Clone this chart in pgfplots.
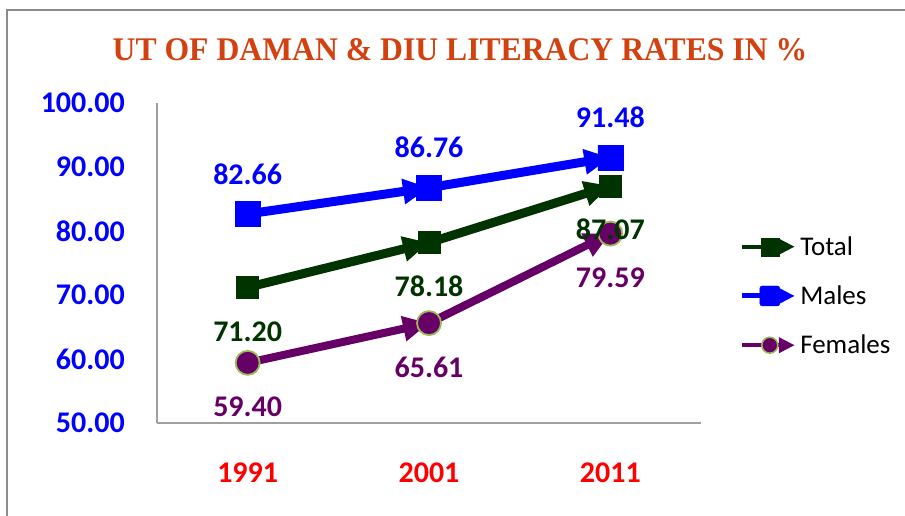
\documentclass[border=0pt]{standalone}
\usepackage{graphicx}
\usepackage{pgfplots}
\pgfplotsset{compat=1.18}
\usepackage{pgfplotstable}
\usepackage{fontspec}
\setmainfont{Carlito}
\newfontfamily\titlefont{Liberation Serif}
\usetikzlibrary{arrows.meta}
\definecolor{cTotal}{HTML}{003300}
\definecolor{cMales}{HTML}{0000FF}
\definecolor{cFem}{HTML}{660066}
\definecolor{cFemEdge}{HTML}{9BBB59}
\definecolor{cTitle}{HTML}{D2410F}
\definecolor{cAxis}{HTML}{A0A0A0}
\definecolor{cFrame}{HTML}{8C8C8C}

\pgfdeclareplotmark{rsquare*}{%
  \pgfsetcornersarced{\pgfpoint{0.3\pgfplotmarksize}{0.3\pgfplotmarksize}}%
  \pgfpathmoveto{\pgfqpoint{0pt}{-\pgfplotmarksize}}%
  \pgfpathlineto{\pgfqpoint{\pgfplotmarksize}{-\pgfplotmarksize}}%
  \pgfpathlineto{\pgfqpoint{\pgfplotmarksize}{\pgfplotmarksize}}%
  \pgfpathlineto{\pgfqpoint{-\pgfplotmarksize}{\pgfplotmarksize}}%
  \pgfpathlineto{\pgfqpoint{-\pgfplotmarksize}{-\pgfplotmarksize}}%
  \pgfpathclose
  \pgfusepathqfillstroke}

\pgfplotstableread{
x year total males females
0 1991 71.20 82.66 59.40
1 2001 78.18 86.76 65.61
2 2011 87.07 91.48 79.59
}\lit

\newcommand{\lblfont}{\fontsize{30}{33}\selectfont\bfseries}

\begin{document}
\begin{tikzpicture}
\useasboundingbox (0pt,0pt) rectangle (905pt,516pt);
\draw[line width=2.5pt, cFrame] (7pt,-10pt) -- (7pt,506pt) -- (920pt,506pt);
\node[font=\titlefont\bfseries\fontsize{33}{36}\selectfont, text=cTitle, inner sep=0pt] at (460pt,466pt) {\scalebox{0.96}[1]{UT OF DAMAN \& DIU LITERACY RATES IN \%}};
\begin{axis}[
  at={(157pt,93pt)}, anchor=south west,
  scale only axis, width=544pt, height=320pt,
  xmin=-0.5, xmax=2.5, ymin=50, ymax=100,
  axis x line*=bottom, axis y line*=left,
  axis line style={cAxis, line width=1.5pt},
  xtick={0,1,2}, xticklabels={1991,2001,2011},
  ytick={50,60,70,80,90,100},
  major tick length=0pt,
  scaled y ticks=false,
  clip=false,
  /pgf/number format/fixed,
  /pgf/number format/fixed zerofill,
  /pgf/number format/precision=2,
  /pgf/number format/assume math mode=true,
  xticklabel style={font=\fontsize{30}{34}\selectfont\bfseries, text=red, anchor=center, yshift=-50pt},
  yticklabel style={font=\fontsize{30}{34}\selectfont\bfseries, text=cMales, anchor=east, inner sep=0pt, xshift=-32pt},
  legend style={at={(axis description cs:1.07,0.397)}, anchor=west, draw=none, fill=none,
    font=\fontsize{27}{30}\selectfont, row sep=23pt, inner sep=0pt,
    nodes={inner sep=3pt}},
  legend cell align=left,
]
% Total
\addplot[cTotal, line width=9pt, -{Triangle[length=26pt,width=24pt]}, forget plot, skip coords between index={2}{3}] table[x=x,y=total]{\lit};
\addplot[cTotal, line width=9pt, -{Triangle[length=26pt,width=24pt]}, forget plot, skip coords between index={0}{1}] table[x=x,y=total]{\lit};
\addplot[only marks, mark=square*, mark size=11pt, cTotal, forget plot] table[x=x,y=total]{\lit};
% Males
\addplot[cMales, line width=9pt, -{Triangle[length=26pt,width=24pt]}, forget plot, skip coords between index={2}{3}] table[x=x,y=males]{\lit};
\addplot[cMales, line width=9pt, -{Triangle[length=26pt,width=24pt]}, forget plot, skip coords between index={0}{1}] table[x=x,y=males]{\lit};
\addplot[only marks, mark=rsquare*, mark size=12.5pt, cMales, forget plot] table[x=x,y=males]{\lit};
% Females
\addplot[cFem, line width=8pt, -{Triangle[length=26pt,width=24pt]}, forget plot, skip coords between index={2}{3}] table[x=x,y=females]{\lit};
\addplot[cFem, line width=8pt, -{Triangle[length=26pt,width=24pt]}, forget plot, skip coords between index={0}{1}] table[x=x,y=females]{\lit};
\addplot[only marks, mark=*, mark size=12pt, mark options={fill=cFem, draw=cFemEdge, line width=1.8pt}, forget plot] table[x=x,y=females]{\lit};
% Labels
\addplot[draw=none, mark=none, forget plot, point meta=y, nodes near coords,
  every node near coord/.append style={anchor=center, yshift=-44pt, text=cTotal, font=\lblfont}] table[x=x,y=total]{\lit};
\addplot[draw=none, mark=none, forget plot, point meta=y, nodes near coords,
  every node near coord/.append style={anchor=center, yshift=40pt, text=cMales, font=\lblfont}] table[x=x,y=males]{\lit};
\addplot[draw=none, mark=none, forget plot, point meta=y, nodes near coords,
  every node near coord/.append style={anchor=center, yshift=-44pt, text=cFem, font=\lblfont}] table[x=x,y=females]{\lit};
% Legend
\addlegendimage{legend image code/.code={
  \draw[cTotal, line width=4pt, -{Triangle[length=16pt,width=15pt]}] (0pt,0pt) -- (53pt,0pt);
  \fill[cTotal] (19pt,-9pt) rectangle (37pt,9pt);
}}
\addlegendentry{Total}
\addlegendimage{legend image code/.code={
  \draw[cMales, line width=5pt, -{Triangle[length=16pt,width=15pt]}] (0pt,0pt) -- (53pt,0pt);
  \fill[cMales, rounded corners=2.5pt] (18pt,-10pt) rectangle (38pt,10pt);
}}
\addlegendentry{Males}
\addlegendimage{legend image code/.code={
  \draw[cFem, line width=4pt, -{Triangle[length=16pt,width=15pt]}] (0pt,0pt) -- (53pt,0pt);
  \filldraw[fill=cFem, draw=cFemEdge, line width=1.5pt] (28pt,0pt) circle (8pt);
}}
\addlegendentry{Females}
\end{axis}
\end{tikzpicture}
\end{document}
